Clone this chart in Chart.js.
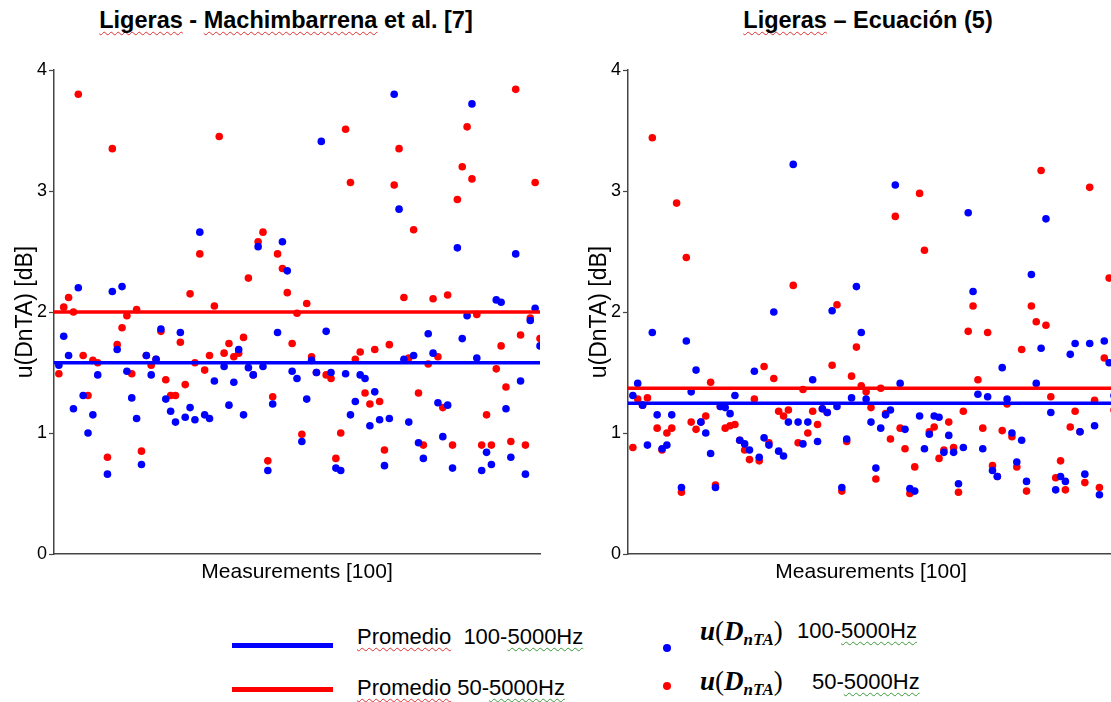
<!DOCTYPE html>
<html><head><meta charset="utf-8">
<script src="https://cdn.jsdelivr.net/npm/chart.js@4.4.1/dist/chart.umd.min.js"></script>
<style>
html,body{margin:0;padding:0;width:1111px;height:702px;overflow:hidden;background:#fff;font-family:"Liberation Sans",Arial,sans-serif;color:#000;position:relative}
canvas{position:absolute;top:40px}
.title{position:absolute;top:6px;font-weight:bold;font-size:23.5px;line-height:28px;white-space:nowrap;transform:translateX(-50%)}
.sp{text-decoration:underline wavy #e03030;text-decoration-thickness:1px;text-underline-offset:3px;text-decoration-skip-ink:none}
.gr{text-decoration:underline wavy #3a9a3a;text-decoration-thickness:1px;text-underline-offset:3px;text-decoration-skip-ink:none}
.lgline{position:absolute;height:5px}
.lgtxt{position:absolute;font-size:22px;line-height:26px;white-space:pre}
.dot{position:absolute;width:8px;height:8px;border-radius:50%}
.math{position:absolute;font-family:"Liberation Serif","DejaVu Serif",serif;font-weight:bold;font-style:italic;font-size:27px;line-height:30px;white-space:nowrap}
.math sub{font-size:17px;vertical-align:-5px}
.math .up{font-style:normal;font-weight:normal}
</style></head>
<body>
<div class="title" style="left:286px"><span class="sp">Ligeras</span> - <span class="sp">Machimbarrena</span> et al. [7]</div>
<div class="title" style="left:868px"><span class="sp">Ligeras</span> – Ecuación (5)</div>
<canvas id="c1" width="545" height="545" style="left:0px"></canvas>
<canvas id="c2" width="545" height="545" style="left:574px"></canvas>

<div class="lgline" style="left:232px;top:643px;width:101px;background:#0000ff"></div>
<div class="lgline" style="left:232px;top:687px;width:101px;background:#ff0000"></div>
<div class="lgtxt" style="left:357px;top:624px"><span class="sp">Promedio</span>  100-<span class="gr">5000Hz</span></div>
<div class="lgtxt" style="left:357px;top:675px"><span class="sp">Promedio</span> 50-<span class="gr">5000Hz</span></div>
<div class="dot" style="left:663px;top:644px;background:#0000ff"></div>
<div class="dot" style="left:663px;top:682px;background:#ff0000"></div>
<div class="math" style="left:700px;top:616px">u<span class="up">(</span>D<sub>nTA</sub><span class="up">)</span></div>
<div class="lgtxt" style="left:797px;top:618px">100-<span class="gr">5000Hz</span></div>
<div class="math" style="left:700px;top:666px">u<span class="up">(</span>D<sub>nTA</sub><span class="up">)</span></div>
<div class="lgtxt" style="left:812px;top:669px">50-<span class="gr">5000Hz</span></div>

<script>
// Measurement index (1..100)
const measurements = [];
for (let i = 1; i <= 100; i++) measurements.push(i);

// Left panel: Ligeras - Machimbarrena et al. [7]
const leftBlue = [1.56,1.80,1.64,1.20,2.20,1.31,1.00,1.15,1.48,null,
  0.66,2.17,1.69,2.21,1.51,1.29,1.12,0.74,1.64,1.48,
  1.61,1.86,1.28,1.18,1.09,1.83,1.13,1.21,1.11,2.66,
  1.15,1.12,1.43,null,1.55,1.23,1.42,1.69,1.15,1.54,
  1.48,2.54,1.55,0.69,1.24,1.83,2.58,2.34,1.51,1.45,
  0.93,1.28,1.60,1.50,3.41,1.84,1.50,0.71,0.69,1.49,
  1.15,1.26,1.48,1.45,1.06,1.34,1.11,0.73,1.12,3.80,
  2.85,1.61,1.09,1.64,0.92,0.79,1.82,1.66,1.25,0.97,
  1.23,0.71,2.53,1.78,1.97,3.72,1.62,0.69,0.84,0.74,
  2.10,2.08,1.20,0.80,2.48,1.43,0.66,1.93,2.03,1.72];
const leftRed = [1.49,2.04,2.12,2.00,3.80,1.64,1.31,1.60,1.58,null,
  0.80,3.35,1.73,1.87,1.97,1.49,2.02,0.85,1.64,1.56,
  1.61,1.84,1.44,1.31,1.31,1.75,1.40,2.15,1.58,2.48,
  1.52,1.64,2.05,3.45,1.66,1.74,1.63,1.66,1.79,2.28,
  1.48,2.58,2.66,0.77,1.30,2.48,2.36,2.16,1.74,1.99,
  0.99,2.07,1.63,1.50,null,1.48,1.45,0.79,1.00,3.51,
  3.07,1.61,1.67,1.33,1.24,1.69,1.26,0.86,1.73,3.05,
  3.35,2.12,1.62,2.68,1.33,0.90,1.57,2.11,1.63,1.21,
  2.14,0.90,2.93,3.20,3.53,3.10,1.98,0.90,1.15,0.90,
  1.53,1.72,1.38,0.93,3.84,1.81,0.90,1.95,3.07,1.78];
const leftBlueMean = 1.58;
const leftRedMean = 2.00;

// Right panel: Ligeras – Ecuación (5)
const rightBlue = [1.31,1.41,1.23,0.90,1.83,1.15,0.87,0.90,1.15,null,
  0.55,1.76,1.34,1.52,1.09,1.00,0.83,0.55,1.22,1.21,
  1.16,1.31,0.94,0.91,0.86,1.51,0.80,0.96,0.90,2.00,
  0.85,0.81,1.09,3.22,1.09,0.91,1.09,1.44,0.93,1.20,
  1.17,2.01,1.22,0.55,0.95,1.29,2.21,1.83,1.28,1.09,
  0.71,1.04,1.15,1.19,3.05,1.41,1.03,0.54,0.52,1.14,
  0.87,0.99,1.14,1.13,0.84,0.98,0.84,0.58,0.88,2.82,
  2.17,1.32,0.87,1.30,0.69,0.64,1.54,1.28,1.00,0.76,
  0.94,0.60,2.31,1.41,1.70,2.77,1.17,0.53,0.64,0.60,
  1.65,1.74,1.01,0.66,1.74,1.06,0.49,1.76,1.58,1.31];
const rightRed = [0.88,1.28,1.23,1.29,3.44,1.04,0.86,1.00,1.04,2.90,
  0.51,2.45,1.09,1.03,1.09,1.14,1.42,0.57,1.22,1.04,
  1.06,1.07,0.94,0.86,0.78,1.28,0.77,1.55,0.92,1.45,
  1.18,1.14,1.19,2.22,0.92,1.36,1.00,1.18,1.07,1.20,
  1.17,1.56,2.06,0.52,0.93,1.47,1.71,1.39,1.34,1.21,
  0.62,1.37,1.16,0.95,2.79,1.04,0.87,0.50,0.72,2.98,
  2.51,1.01,1.05,0.79,0.86,1.09,0.88,0.51,1.18,1.84,
  2.05,1.44,1.04,1.83,0.73,0.64,1.02,1.24,0.97,0.72,
  1.69,0.52,2.05,1.92,3.17,1.89,1.30,0.63,0.77,0.53,
  1.05,1.18,1.01,0.59,3.03,1.27,0.55,1.62,2.28,1.19];
const rightBlueMean = 1.245;
const rightRedMean = 1.37;

const yTicks = [0, 1, 2, 3, 4];
const xTitle = 'Measurements [100]';
const yTitle = 'u(DnTA) [dB]';

const FONT = '"Liberation Sans", Arial, sans-serif';
const BLUE = '#0000ff', RED = '#ff0000', AXIS = '#444444';

function makeChart(id, blue, red, blueMean, redMean) {
  const pts = arr => measurements.map((m, i) => ({x: m, y: arr[i]}));
  const xMin = 0, xMax = measurements.length;
  return new Chart(document.getElementById(id), {
    type: 'scatter',
    data: {
      datasets: [
        {type: 'line', data: [{x: xMin, y: blueMean}, {x: xMax, y: blueMean}], borderColor: BLUE, borderWidth: 3.5, pointRadius: 0, order: -2},
        {type: 'line', data: [{x: xMin, y: redMean}, {x: xMax, y: redMean}], borderColor: RED, borderWidth: 3.5, pointRadius: 0, order: -1},
        {data: pts(blue), backgroundColor: BLUE, borderWidth: 0, pointRadius: 3.8, order: 0},
        {data: pts(red), backgroundColor: RED, borderWidth: 0, pointRadius: 3.8, order: 1}
      ]
    },
    options: {
      responsive: false, animation: false, devicePixelRatio: 1,
      layout: {padding: {left: 0, right: 5, top: 30, bottom: 0}},
      plugins: {legend: {display: false}, tooltip: {enabled: false}},
      scales: {
        x: {
          type: 'linear', min: xMin, max: xMax,
          ticks: {display: false},
          grid: {display: false},
          border: {display: true, color: AXIS, width: 1.5},
          title: {display: true, text: xTitle, color: '#000', font: {family: FONT, size: 21}, padding: {top: 0, bottom: 0}},
          afterFit(s) { s.height = 31; }
        },
        y: {
          min: yTicks[0], max: yTicks[yTicks.length - 1],
          afterBuildTicks(s) { s.ticks = yTicks.map(v => ({value: v})); },
          ticks: {color: '#000', font: {family: FONT, size: 18}, padding: 2},
          grid: {display: true, drawOnChartArea: false, drawTicks: true, tickLength: 5, color: AXIS, tickWidth: 1.2},
          border: {display: true, color: AXIS, width: 1.5},
          title: {display: true, text: yTitle, color: '#000', font: {family: FONT, size: 23}, padding: {top: 12, bottom: 0}},
          afterFit(s) { s.width = 54; }
        }
      }
    }
  });
}

makeChart('c1', leftBlue, leftRed, leftBlueMean, leftRedMean);
makeChart('c2', rightBlue, rightRed, rightBlueMean, rightRedMean);
</script>
</body></html>
